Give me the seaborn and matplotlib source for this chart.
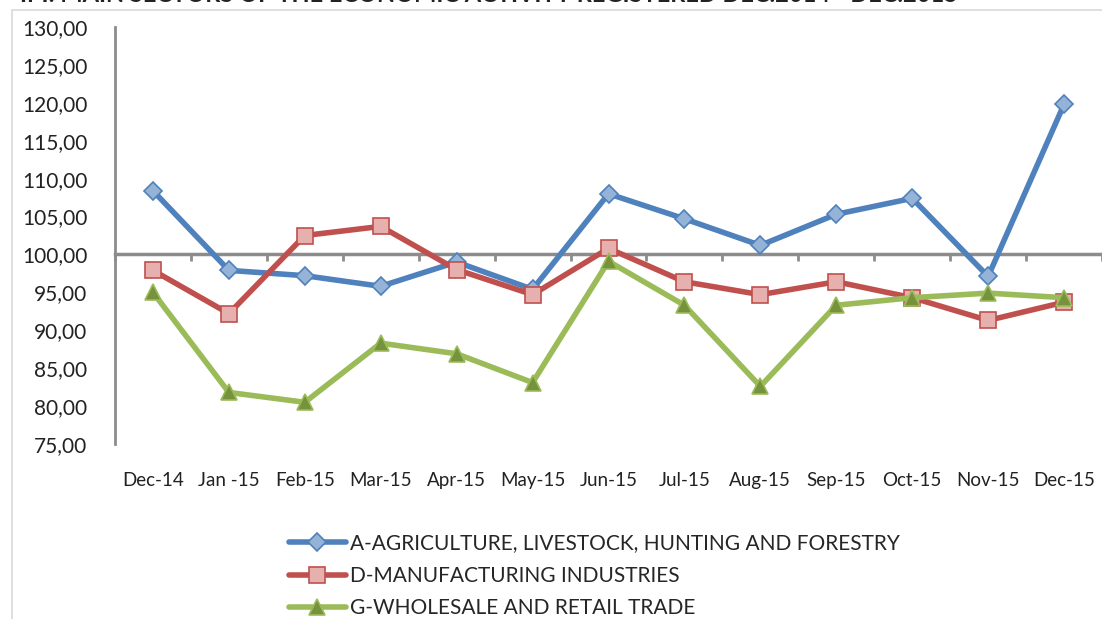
import matplotlib
matplotlib.use("Agg")
import matplotlib.pyplot as plt
from matplotlib.ticker import FuncFormatter, FixedLocator
from matplotlib.patches import Rectangle
import seaborn as sns
import pandas as pd

months = ["Dec-14", "Jan -15", "Feb-15", "Mar-15", "Apr-15", "May-15", "Jun-15",
          "Jul-15", "Aug-15", "Sep-15", "Oct-15", "Nov-15", "Dec-15"]
agriculture = [108.4, 97.9, 97.2, 95.8, 99.0, 95.4, 108.0, 104.7, 101.2, 105.3, 107.4, 97.1, 119.8]
manufacturing = [97.9, 92.2, 102.5, 103.7, 98.0, 94.7, 100.8, 96.4, 94.7, 96.4, 94.3, 91.3, 93.7]
trade = [95.0, 81.8, 80.5, 88.3, 86.9, 83.1, 99.1, 93.3, 82.6, 93.3, 94.3, 94.9, 94.3]
labels = ["A-AGRICULTURE, LIVESTOCK, HUNTING AND FORESTRY",
          "D-MANUFACTURING INDUSTRIES",
          "G-WHOLESALE AND RETAIL TRADE"]

sns.set_style("white")
plt.rcParams['font.family'] = ['Lato', 'DejaVu Sans']

fig = plt.figure(figsize=(11.02, 6.19), dpi=100)
ax = fig.add_axes([115 / 1102, 1 - 444 / 619, 1 - 115 / 1102, (444 - 27) / 619])

styles = [
    dict(color="#4F81BD", marker="D", markersize=9, markerfacecolor="#95B3D7", markeredgecolor="#4F81BD"),
    dict(color="#C0504D", marker="s", markersize=12, markerfacecolor="#E6B0AE", markeredgecolor="#C0504D"),
    dict(color="#9BBB59", marker="^", markersize=11, markerfacecolor="#76923C", markeredgecolor="#9BBB59"),
]
pos = list(range(len(months)))
for vals, lab, st in zip([agriculture, manufacturing, trade], labels, styles):
    df = pd.DataFrame({"x": pos, "y": vals})
    sns.lineplot(data=df, x="x", y="y", ax=ax, label=lab, linewidth=4,
                 markeredgewidth=1.2, zorder=3, **st)

ax.set_xlim(-0.5, 12.5)
ax.set_ylim(75, 130)
ax.set_yticks(range(75, 131, 5))
ax.yaxis.set_major_formatter(FuncFormatter(lambda v, p: f"{v:.2f}".replace(".", ",")))
ax.set_xticks(pos)
ax.set_xticklabels(months)
ax.tick_params(axis="x", length=0, pad=20, labelsize=13.5, colors="#222222")
ax.tick_params(axis="y", length=0, pad=20, labelsize=15, colors="#222222")
ax.set_xlabel("")
ax.set_ylabel("")
for s in ["top", "right", "bottom"]:
    ax.spines[s].set_visible(False)
ax.spines["left"].set_color("#8C8C8C")
ax.spines["left"].set_linewidth(2)

# category axis crossing at 100
ax2 = ax.twiny()
ax2.set_xlim(ax.get_xlim())
ax2.xaxis.set_ticks_position("bottom")
ax2.spines["bottom"].set_position(("data", 100))
ax2.spines["bottom"].set_color("#8C8C8C")
ax2.spines["bottom"].set_linewidth(2.5)
ax2.spines["bottom"].set_zorder(1)
for s in ["top", "right", "left"]:
    ax2.spines[s].set_visible(False)
ax2.xaxis.set_major_locator(FixedLocator([i - 0.5 for i in range(len(months) + 1)]))
ax2.tick_params(axis="x", direction="out", length=5, width=2, color="#8C8C8C", labelbottom=False, labeltop=False)
ax2.patch.set_visible(False)
ax.set_zorder(ax2.get_zorder() + 1)
ax.patch.set_visible(False)

handles, labs = ax.get_legend_handles_labels()
ax.get_legend().remove()
fig.legend(handles, labs, loc="upper left", bbox_to_anchor=(281 / 1102, 1 - 525 / 619),
           frameon=False, fontsize=15, handlelength=2.7, handletextpad=0.2,
           labelspacing=0.6, borderaxespad=0)

fig.patches.append(Rectangle((12 / 1102, -0.1), 1.2, 1.1 - 10 / 619, transform=fig.transFigure,
                             fill=False, edgecolor="#D9D9D9", linewidth=1.2))
fig.text(20 / 1102, 1 - 2 / 619,
         "IPI: MAIN SECTORS OF THE ECONOMIC ACTIVITY REGISTERED DEC.2014 - DEC.2015",
         fontsize=17, fontweight="bold", va="baseline", ha="left", color="#222222")

fig.savefig("out.png", dpi=100)
